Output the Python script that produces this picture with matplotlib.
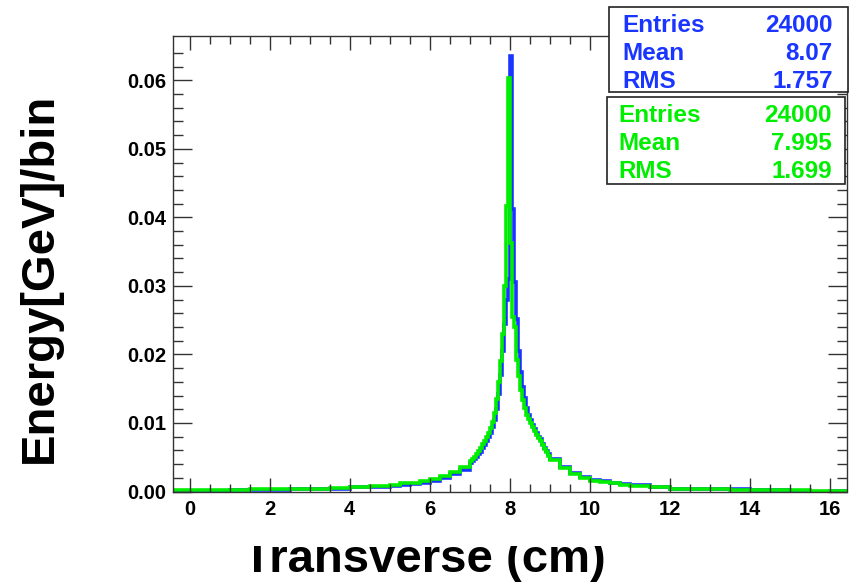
import matplotlib
matplotlib.use("Agg")
import matplotlib.pyplot as plt
import numpy as np
from matplotlib.patches import Rectangle
from matplotlib.transforms import Bbox

plt.rcParams['font.family'] = ['Liberation Sans', 'DejaVu Sans']
plt.rcParams['font.weight'] = 'bold'

# bin edges: coarse in the tails, 0.05 cm in the core
edges_left = [-0.5, 0.0, 0.5, 1.0, 1.5, 2.0, 2.5, 3.0, 3.5, 4.0, 4.5,
              5.0, 5.25, 5.5, 5.75, 6.0, 6.25, 6.5, 6.75]
edges_core = list(np.round(np.arange(7.0, 9.0, 0.05), 2))
edges_right = [9.0, 9.25, 9.5, 9.75, 10.0, 10.25, 10.5, 10.75,
               11.0, 11.5, 12.0, 12.5, 13.0, 13.5, 14.0, 14.5, 15.0, 15.5, 16.0, 16.5]
edges = np.array(edges_left + edges_core + edges_right)

# energy per bin, blue histogram
blue_left = [0.0001, 0.0001, 0.0001, 0.0002, 0.0002, 0.0002, 0.0003, 0.0003, 0.0004, 0.0006, 0.0007,
             0.0008, 0.0010, 0.0011, 0.0013, 0.0016, 0.0020, 0.0025, 0.0032]
blue_core = [0.0041, 0.0044, 0.0047, 0.0050, 0.0054, 0.0058, 0.0063, 0.0068, 0.0073, 0.0079,
             0.0085, 0.0094, 0.0105, 0.0120, 0.0142, 0.0170, 0.0205, 0.0245, 0.0280, 0.0310,
             0.0636, 0.0412, 0.0306, 0.0252, 0.0205, 0.0175, 0.0152, 0.0136, 0.0122, 0.0112,
             0.0104, 0.0097, 0.0091, 0.0085, 0.0080, 0.0076, 0.0070, 0.0064, 0.0059, 0.0054]
blue_right = [0.0048, 0.0036, 0.0027, 0.0021, 0.0017, 0.0015, 0.0013, 0.0011,
              0.0009, 0.0006, 0.0004, 0.0003, 0.0003, 0.0003, 0.0002, 0.0002, 0.0001, 0.0000, 0.0001]

# energy per bin, green histogram
green_left = [0.0002, 0.0002, 0.0002, 0.0002, 0.0003, 0.0003, 0.0004, 0.0004, 0.0005, 0.0007, 0.0008,
              0.0010, 0.0012, 0.0013, 0.0015, 0.0018, 0.0022, 0.0028, 0.0036]
green_core = [0.0045, 0.0048, 0.0051, 0.0055, 0.0059, 0.0064, 0.0069, 0.0074, 0.0079, 0.0085,
              0.0092, 0.0102, 0.0115, 0.0135, 0.0160, 0.0190, 0.0230, 0.0300, 0.0417, 0.0604,
              0.0363, 0.0255, 0.0240, 0.0192, 0.0168, 0.0148, 0.0134, 0.0122, 0.0112, 0.0106,
              0.0100, 0.0094, 0.0088, 0.0083, 0.0078, 0.0074, 0.0068, 0.0062, 0.0057, 0.0052]
green_right = [0.0046, 0.0034, 0.0025, 0.0020, 0.0016, 0.0014, 0.0012, 0.0010,
               0.0008, 0.0006, 0.0004, 0.0003, 0.0003, 0.0002, 0.0002, 0.0002, 0.0002, 0.0001, 0.0001]

blue = np.array(blue_left + blue_core + blue_right)
green = np.array(green_left + green_core + green_right)

stats_labels = ['Entries', 'Mean', 'RMS']
blue_stats = ['24000', '8.07', '1.757']
green_stats = ['24000', '7.995', '1.699']

BLUE = '#1a35ff'
GREEN = '#00ee00'

W, H = 850, 584
fig = plt.figure(figsize=(W / 100, H / 100), dpi=100)
ax = fig.add_axes([173 / W, 1 - 491.5 / H, (846.5 - 173) / W, (491.5 - 35.7) / H])

ax.stairs(blue, edges, color=BLUE, lw=2.6)
ax.stairs(green, edges, color=GREEN, lw=2.6)

ax.set_xlim(-0.42, 16.42)
ax.set_ylim(0, 0.0665)
ax.set_xticks(np.arange(0, 17, 2))
ax.set_xticks(np.arange(0, 16.5, 0.5), minor=True)
ax.set_yticks(np.arange(0, 0.061, 0.01))
ax.set_yticks(np.arange(0, 0.066, 0.002), minor=True)
ax.yaxis.set_major_formatter(matplotlib.ticker.FormatStrFormatter('%.2f'))

ax.tick_params(axis='both', which='both', direction='in', top=True, right=True,
               color='#333333', width=1.0, labelsize=14.5)
ax.tick_params(axis='x', which='major', length=10, pad=6)
ax.tick_params(axis='x', which='minor', length=5.5)
ax.tick_params(axis='y', which='major', length=14, pad=5)
ax.tick_params(axis='y', which='minor', length=7.5)
for s in ax.spines.values():
    s.set_color('#333333')
    s.set_linewidth(1.0)

# axis titles
fig.text(40 / W, 1 - 278 / H, 'Energy[GeV]/bin', rotation=90, ha='center', va='center',
         fontsize=34, fontweight='bold')
xt = fig.text(424 / W, 1 - 572 / H, 'Transverse (cm)', ha='center', va='baseline',
              fontsize=34, fontweight='bold')
xt.set_clip_on(True)
xt.set_clip_box(Bbox.from_extents(0, 0, W, H - 546))


def stat_box(x0, y0, x1, y1, rows, values, color, tx0, tx1, baselines):
    fig.patches.append(Rectangle((x0 / W, 1 - y1 / H), (x1 - x0) / W, (y1 - y0) / H,
                                 transform=fig.transFigure, facecolor='white',
                                 edgecolor='#222222', lw=1.2, zorder=5))
    for lab, val, yb in zip(rows, values, baselines):
        fig.text(tx0 / W, 1 - yb / H, lab, color=color, fontsize=17.5, fontweight='bold',
                 ha='left', va='baseline', zorder=6)
        fig.text(tx1 / W, 1 - yb / H, val, color=color, fontsize=17.5, fontweight='bold',
                 ha='right', va='baseline', zorder=6)


stat_box(609, 7, 848, 92.5, stats_labels, blue_stats, BLUE, 622, 833, [31.5, 60, 88])
stat_box(606.5, 96.5, 845, 183.5, stats_labels, green_stats, GREEN, 618.5, 832, [121.5, 150, 178])

fig.savefig('out.png', dpi=100)
